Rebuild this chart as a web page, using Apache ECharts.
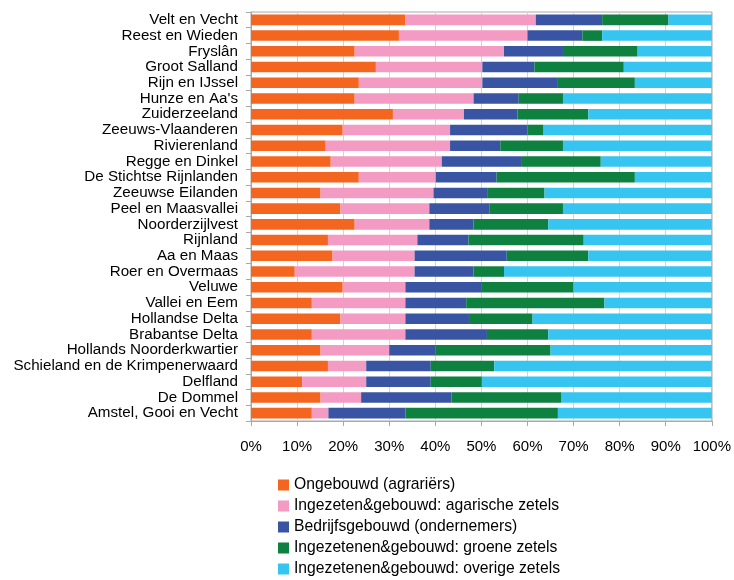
<!DOCTYPE html>
<html>
<head>
<meta charset="utf-8">
<script src="https://cdn.jsdelivr.net/npm/echarts@6/dist/echarts.min.js"></script>
<style>
  html, body { margin: 0; padding: 0; background: #fff; }
  #chart { width: 734px; height: 580px; }
</style>
</head>
<body>
<div id="chart"></div>
<script>
// waterschappen, van boven naar beneden
const categories = [
    'Velt en Vecht', 'Reest en Wieden', 'Fryslân', 'Groot Salland', 'Rijn en IJssel',
    "Hunze en Aa's", 'Zuiderzeeland', 'Zeeuws-Vlaanderen', 'Rivierenland', 'Regge en Dinkel',
    'De Stichtse Rijnlanden', 'Zeeuwse Eilanden', 'Peel en Maasvallei', 'Noorderzijlvest', 'Rijnland',
    'Aa en Maas', 'Roer en Overmaas', 'Veluwe', 'Vallei en Eem', 'Hollandse Delta',
    'Brabantse Delta', 'Hollands Noorderkwartier', 'Schieland en de Krimpenerwaard', 'Delfland', 'De Dommel',
    'Amstel, Gooi en Vecht'
];

const seriesNames = [
    'Ongebouwd (agrariërs)',
    'Ingezeten&gebouwd: agarische zetels',
    'Bedrijfsgebouwd (ondernemers)',
    'Ingezetenen&gebouwd: groene zetels',
    'Ingezetenen&gebouwd: overige zetels'
];

// aandeel in % per categorie
const ongebouwd = [33.5, 32.1, 22.5, 27.1, 23.4, 22.5, 30.8, 19.9, 16.2, 17.3, 23.4, 15.1, 19.4, 22.5, 16.7, 17.7, 9.5, 19.9, 13.2, 19.4, 13.2, 15.1, 16.7, 11.1, 15.1, 13.2];
const agrarisch = [28.3, 27.9, 32.4, 23.1, 26.8, 25.8, 15.4, 23.3, 27.0, 24.1, 16.7, 24.5, 19.3, 16.2, 19.4, 17.8, 26.0, 13.6, 20.3, 14.1, 20.3, 14.9, 8.3, 13.9, 8.8, 3.6];
const bedrijven = [14.4, 11.9, 12.8, 11.3, 16.4, 9.8, 11.6, 16.8, 10.9, 17.2, 13.2, 11.8, 13.0, 9.6, 11.1, 20.0, 12.8, 16.6, 13.2, 13.8, 17.7, 10.1, 14.0, 14.0, 19.6, 16.7];
const groen = [14.4, 4.3, 16.2, 19.4, 16.7, 9.6, 15.4, 3.5, 13.6, 17.3, 30.0, 12.3, 16.0, 16.2, 25.0, 17.7, 6.6, 19.9, 30.0, 13.8, 13.3, 24.9, 13.8, 11.1, 23.9, 33.1];
const overig = [9.4, 23.8, 16.1, 19.1, 16.7, 32.3, 26.8, 36.5, 32.3, 24.1, 16.7, 36.3, 32.3, 35.5, 27.8, 26.8, 45.1, 30.0, 23.3, 38.9, 35.5, 35.0, 47.2, 49.9, 32.6, 33.4];

const xTicks = ['0%', '10%', '20%', '30%', '40%', '50%', '60%', '70%', '80%', '90%', '100%'];

const colors = ['#f4661f', '#f39bc3', '#3a54a4', '#0e8140', '#36c5f0'];

let myChart = echarts.init(document.getElementById('chart'));

let allData = [ongebouwd, agrarisch, bedrijven, groen, overig];

let option = {
    animation: false,
    color: colors,
    textStyle: {
        fontFamily: 'Liberation Sans, Arial, sans-serif'
    },
    grid: {
        left: 251,
        right: 20,
        top: 12,
        bottom: 159,
        show: true,
        borderColor: '#a8a8a8',
        borderWidth: 1
    },
    legend: {
        orient: 'vertical',
        left: 273,
        top: 472,
        height: 140,
        itemWidth: 11,
        itemHeight: 11,
        itemGap: 5,
        icon: 'rect',
        textStyle: { fontSize: 15.7, color: '#000' },
        data: seriesNames
    },
    xAxis: {
        type: 'value',
        min: 0,
        max: 100,
        interval: 10,
        axisLine: { show: true, lineStyle: { color: '#a8a8a8' } },
        axisTick: { show: true, length: 5, lineStyle: { color: '#a8a8a8' } },
        splitLine: { show: true, lineStyle: { color: '#d4d4d4', width: 1 } },
        axisLabel: {
            fontSize: 15,
            color: '#000',
            margin: 18,
            formatter: function (v) { return xTicks[Math.round(v / 10)]; }
        }
    },
    yAxis: {
        type: 'category',
        inverse: true,
        data: categories,
        axisLine: { show: true, lineStyle: { color: '#a8a8a8' } },
        axisTick: { show: true, length: 5, lineStyle: { color: '#a8a8a8' } },
        axisLabel: { fontSize: 15.2, color: '#000', margin: 13, interval: 0 }
    },
    series: seriesNames.map(function (name, i) {
        return {
            name: name,
            type: 'bar',
            stack: 'totaal',
            barCategoryGap: '33%',
            data: allData[i]
        };
    })
};
option && myChart.setOption(option);
</script>
</body>
</html>
